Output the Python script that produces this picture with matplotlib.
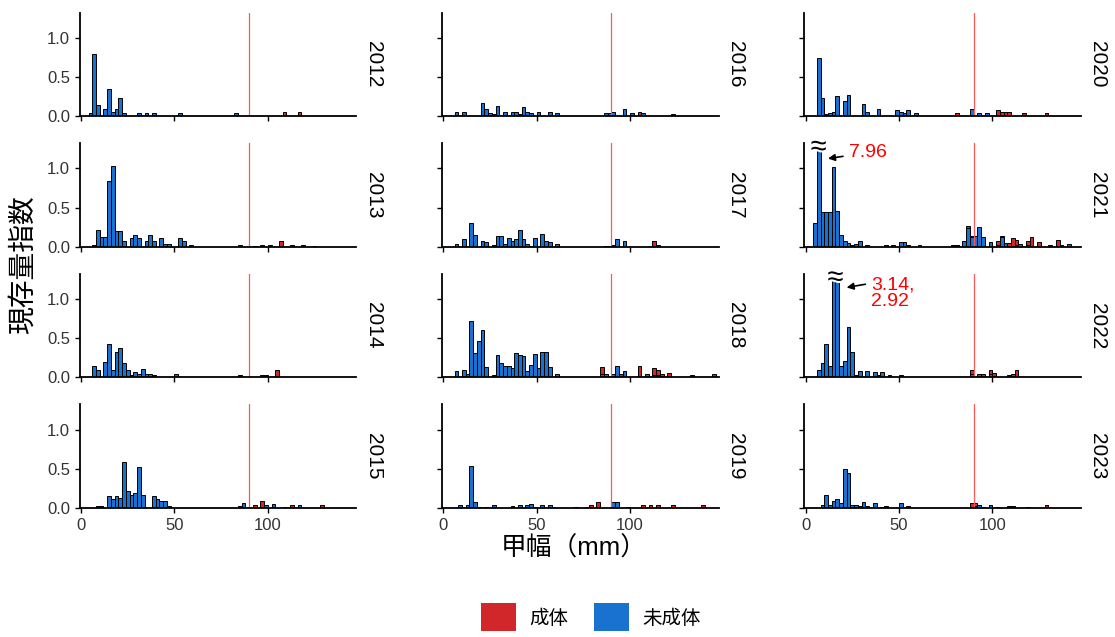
import matplotlib.pyplot as plt
import matplotlib.patheffects as pe
from matplotlib.patches import Patch

plt.rcParams['font.family'] = ['Liberation Sans', 'Noto Sans CJK JP', 'DejaVu Sans']

# 甲幅階級(2 mm, 左端) : 現存量指数
juv_2012 = {4: 0.04, 6: 0.79, 8: 0.14, 12: 0.09, 14: 0.35, 16: 0.05, 18: 0.10, 20: 0.23, 22: 0.04,
            30: 0.04, 34: 0.04, 38: 0.04, 40: 0.01, 52: 0.04, 82: 0.04, 92: 0.01}
ad_2012 = {106: 0.01, 108: 0.05, 110: 0.01, 116: 0.05}

juv_2013 = {6: 0.02, 8: 0.21, 10: 0.12, 12: 0.12, 14: 0.84, 16: 1.03, 18: 0.20, 20: 0.20, 22: 0.07,
            26: 0.11, 28: 0.15, 30: 0.11, 34: 0.07, 36: 0.15, 38: 0.08, 42: 0.11, 44: 0.04, 46: 0.04,
            52: 0.11, 54: 0.07, 58: 0.03, 92: 0.01, 100: 0.03, 124: 0.01}
ad_2013 = {84: 0.02, 96: 0.02, 106: 0.07, 112: 0.02, 118: 0.03}

juv_2014 = {6: 0.15, 8: 0.09, 12: 0.20, 14: 0.42, 16: 0.09, 18: 0.32, 20: 0.37, 22: 0.19, 24: 0.10,
            26: 0.03, 28: 0.07, 30: 0.05, 32: 0.11, 34: 0.04, 36: 0.05, 38: 0.03, 40: 0.01, 50: 0.04,
            82: 0.01, 86: 0.01, 96: 0.03, 98: 0.03}
ad_2014 = {84: 0.03, 104: 0.09, 112: 0.01, 116: 0.01, 126: 0.01}

juv_2015 = {8: 0.02, 10: 0.02, 14: 0.15, 16: 0.12, 18: 0.15, 20: 0.13, 22: 0.58, 24: 0.22, 26: 0.17,
            28: 0.19, 30: 0.52, 32: 0.17, 38: 0.15, 40: 0.12, 42: 0.09, 44: 0.09, 46: 0.03,
            84: 0.03, 86: 0.06, 98: 0.04, 102: 0.05, 108: 0.01, 116: 0.04}
ad_2015 = {92: 0.04, 96: 0.09, 112: 0.04, 128: 0.04}

juv_2016 = {6: 0.05, 10: 0.05, 20: 0.17, 22: 0.10, 24: 0.04, 26: 0.03, 28: 0.13, 32: 0.06, 36: 0.06,
            38: 0.05, 40: 0.03, 42: 0.12, 44: 0.06, 46: 0.04, 50: 0.05, 56: 0.06, 60: 0.04,
            84: 0.01, 86: 0.04, 88: 0.04, 90: 0.06, 96: 0.10, 100: 0.04, 106: 0.04}
ad_2016 = {104: 0.06, 122: 0.03}

juv_2017 = {6: 0.04, 10: 0.10, 14: 0.31, 16: 0.15, 20: 0.07, 22: 0.06, 26: 0.03, 28: 0.14, 30: 0.14,
            32: 0.04, 34: 0.11, 36: 0.07, 38: 0.10, 40: 0.22, 42: 0.10, 44: 0.04, 46: 0.01, 48: 0.11,
            52: 0.17, 54: 0.08, 56: 0.06, 60: 0.04, 86: 0.01, 88: 0.01, 90: 0.03, 92: 0.10, 96: 0.07,
            114: 0.03}
ad_2017 = {112: 0.07}

juv_2018 = {6: 0.08, 10: 0.10, 12: 0.04, 14: 0.72, 16: 0.31, 18: 0.46, 20: 0.61, 22: 0.13, 26: 0.03,
            28: 0.28, 30: 0.18, 32: 0.14, 34: 0.14, 36: 0.12, 38: 0.31, 40: 0.28, 42: 0.27, 44: 0.08,
            46: 0.16, 48: 0.30, 50: 0.12, 52: 0.32, 54: 0.32, 56: 0.13, 60: 0.04, 84: 0.05, 86: 0.05,
            90: 0.04, 92: 0.15, 96: 0.08, 104: 0.02, 108: 0.04, 112: 0.03, 114: 0.03, 116: 0.02}
ad_2018 = {84: 0.08, 94: 0.05, 104: 0.12, 112: 0.09, 114: 0.07, 116: 0.02, 120: 0.06, 132: 0.03,
           144: 0.04}

juv_2019 = {8: 0.04, 12: 0.04, 14: 0.53, 16: 0.08, 18: 0.01, 22: 0.01, 26: 0.04, 36: 0.02, 40: 0.04,
            44: 0.04, 46: 0.05, 48: 0.01, 52: 0.04, 56: 0.04, 58: 0.01, 70: 0.01, 76: 0.01,
            90: 0.08, 92: 0.08, 98: 0.01}
ad_2019 = {78: 0.04, 82: 0.08, 106: 0.04, 110: 0.04, 114: 0.04, 122: 0.04, 138: 0.04}

juv_2020 = {6: 0.74, 8: 0.24, 10: 0.03, 12: 0.04, 14: 0.06, 16: 0.26, 18: 0.01, 20: 0.20, 22: 0.27,
            30: 0.16, 32: 0.05, 38: 0.09, 42: 0.01, 48: 0.08, 50: 0.06, 52: 0.04, 54: 0.08, 56: 0.01,
            58: 0.04, 88: 0.10, 92: 0.04, 96: 0.04}
ad_2020 = {80: 0.04, 102: 0.08, 104: 0.06, 106: 0.06, 108: 0.06, 116: 0.04, 128: 0.04}

juv_2021 = {4: 0.30, 6: 7.96, 8: 0.45, 10: 0.45, 12: 0.45, 14: 1.02, 16: 0.46, 18: 0.15, 20: 0.07,
            22: 0.05, 24: 0.03, 26: 0.04, 28: 0.08, 32: 0.03, 42: 0.03, 46: 0.03, 50: 0.06, 52: 0.06,
            54: 0.03, 60: 0.03, 78: 0.02, 80: 0.02, 84: 0.08, 86: 0.24, 88: 0.13, 90: 0.14, 92: 0.25,
            94: 0.12, 98: 0.06, 102: 0.03, 104: 0.12, 106: 0.05, 112: 0.02, 114: 0.04, 118: 0.02}
ad_2021 = {80: 0.01, 86: 0.03, 88: 0.01, 102: 0.04, 104: 0.02, 108: 0.05, 110: 0.11, 112: 0.07,
           118: 0.05, 120: 0.12, 124: 0.06, 130: 0.03, 134: 0.09, 136: 0.03, 140: 0.04}

juv_2022 = {6: 0.10, 8: 0.18, 10: 0.42, 12: 0.15, 14: 3.14, 16: 2.92, 18: 0.15, 20: 0.21, 22: 0.64,
            24: 0.32, 26: 0.03, 28: 0.08, 32: 0.08, 36: 0.07, 38: 0.03, 40: 0.07, 44: 0.03, 50: 0.03,
            88: 0.05, 98: 0.05, 100: 0.02, 108: 0.03}
ad_2022 = {88: 0.05, 92: 0.04, 94: 0.04, 98: 0.04, 100: 0.04, 110: 0.05, 112: 0.09}

juv_2023 = {8: 0.04, 10: 0.16, 12: 0.04, 14: 0.09, 16: 0.11, 18: 0.07, 20: 0.50, 22: 0.44, 24: 0.04,
            26: 0.04, 28: 0.03, 30: 0.08, 32: 0.03, 36: 0.07, 40: 0.01, 42: 0.03, 50: 0.07, 54: 0.03,
            88: 0.01, 90: 0.03, 92: 0.04, 94: 0.01, 98: 0.04, 102: 0.01, 110: 0.03, 118: 0.01}
ad_2023 = {88: 0.06, 90: 0.03, 108: 0.03, 128: 0.04}

years = [2012, 2013, 2014, 2015, 2016, 2017, 2018, 2019, 2020, 2021, 2022, 2023]
juv = [juv_2012, juv_2013, juv_2014, juv_2015, juv_2016, juv_2017,
       juv_2018, juv_2019, juv_2020, juv_2021, juv_2022, juv_2023]
ad = [ad_2012, ad_2013, ad_2014, ad_2015, ad_2016, ad_2017,
      ad_2018, ad_2019, ad_2020, ad_2021, ad_2022, ad_2023]

# 軸外に出る棒の注記 (年, 棒の位置, 文字)
broken = {2021: (7, '7.96'), 2022: (16, '3.14,\n2.92')}

bin_w = 2
size_50 = 90  # 成体サイズ基準 (mm)
c_ad = '#d1262a'
c_juv = '#1a72d0'
ymax = 1.32

fig = plt.figure(figsize=(11.15, 6.37), dpi=100)
gs = fig.add_gridspec(4, 3, left=0.0717, right=0.9695, top=0.98, bottom=0.2025,
                      wspace=0.31, hspace=0.26)

for i, yr in enumerate(years):
    r, c = i % 4, i // 4
    ax = fig.add_subplot(gs[r, c])

    jx = list(juv[i].keys())
    jh = list(juv[i].values())
    ax.bar(jx, jh, width=bin_w, align='edge', color=c_juv, edgecolor='black', linewidth=0.7)
    # 成体は未成体の上に積む
    ax_x = list(ad[i].keys())
    ax_h = list(ad[i].values())
    base = [juv[i].get(k, 0) for k in ax_x]
    ax.bar(ax_x, ax_h, bottom=base, width=bin_w, align='edge', color=c_ad,
           edgecolor='black', linewidth=0.7)

    ax.axvline(size_50, color='#ff5a5a', lw=0.9)

    ax.set_xlim(-0.6, 147.5)
    ax.set_ylim(0, ymax)
    ax.set_xticks([0, 50, 100])
    ax.set_yticks([0, 0.5, 1.0])
    for s in ['top', 'right']:
        ax.spines[s].set_visible(False)
    for s in ['left', 'bottom']:
        ax.spines[s].set_linewidth(1.3)
    ax.tick_params(length=3.5, width=1.0, labelsize=12, labelcolor='#333333')
    if c == 0:
        ax.set_yticklabels(['0.0', '0.5', '1.0'])
    else:
        ax.set_yticklabels([])
    if r != 3:
        ax.set_xticklabels([])

    ax.text(1.06, 0.5, str(yr), transform=ax.transAxes, rotation=270,
            ha='center', va='center', fontsize=15)

    if yr in broken:
        bx, lab = broken[yr]
        ax.text(bx, ymax - 0.05, '≈', ha='center', va='center', fontsize=21,
                path_effects=[pe.withStroke(linewidth=3, foreground='white')])
        if yr == 2021:
            ax.annotate(lab, xy=(bx + 3.5, 1.12), xytext=(23, 1.2), color='red', fontsize=14,
                        va='center', arrowprops=dict(arrowstyle='-|>', color='black', lw=1.2,
                                                     mutation_scale=10))
        else:
            ax.annotate(lab, xy=(bx + 4.5, 1.14), xytext=(35, 1.07), color='red', fontsize=14,
                        va='center', linespacing=1.0,
                        arrowprops=dict(arrowstyle='-|>', color='black', lw=1.2,
                                        mutation_scale=10, relpos=(0, 0.8)))

fig.text(0.515, 0.139, '甲幅（mm）', ha='center', va='center', fontsize=18.5)
fig.text(0.022, 0.585, '現存量指数', ha='center', va='center', rotation=90, fontsize=20)

handles = [Patch(facecolor=c_ad, label='成体'), Patch(facecolor=c_juv, label='未成体')]
fig.legend(handles=handles, loc='center', bbox_to_anchor=(0.53, 0.031), ncol=2, frameon=False,
           fontsize=14, handlelength=1.8, handleheight=1.8, columnspacing=1.3, handletextpad=0.7)

plt.savefig('out.png', dpi=100)
